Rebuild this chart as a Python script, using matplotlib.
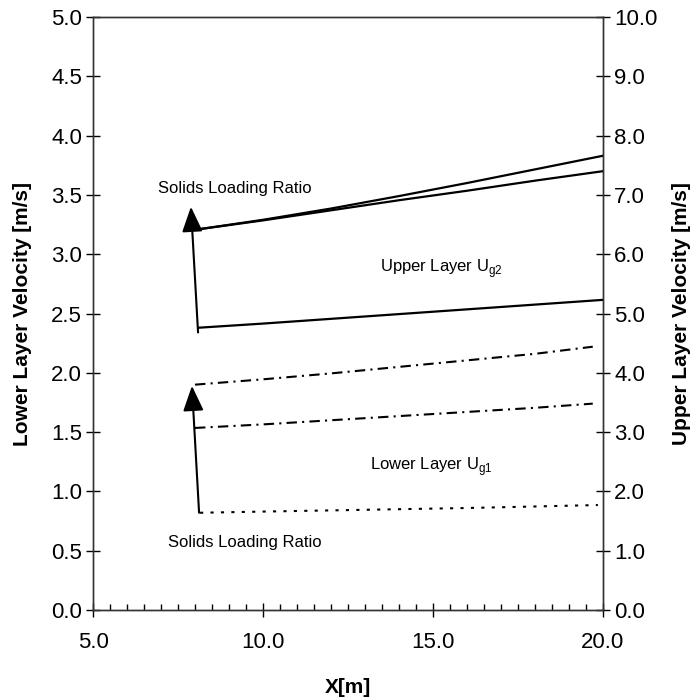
import matplotlib.pyplot as plt
from matplotlib.ticker import MultipleLocator, FormatStrFormatter

plt.rcParams['font.family'] = ['Liberation Sans', 'DejaVu Sans']

# upper layer (right axis), solid lines
x_up = [8.1, 10, 12, 14, 16, 18, 20]
up_a = [6.42, 6.58, 6.77, 6.98, 7.20, 7.43, 7.66]
up_b = [6.42, 6.57, 6.74, 6.91, 7.07, 7.24, 7.40]
up_c = [4.76, 4.83, 4.91, 4.99, 5.07, 5.15, 5.23]

# lower layer (left axis)
x_low = [8.0, 10, 12, 14, 16, 18, 19.7]
low_a = [1.90, 1.945, 1.995, 2.05, 2.105, 2.16, 2.22]
low_b = [1.535, 1.565, 1.60, 1.635, 1.67, 1.705, 1.74]
x_dot = [8.15, 10, 12, 14, 16, 18, 19.85]
low_c = [0.82, 0.83, 0.84, 0.85, 0.86, 0.873, 0.885]

fig = plt.figure(figsize=(6.91, 6.99), dpi=100)
ax = fig.add_axes([0.1346, 0.1273, 0.738, 0.8484])
ax2 = ax.twinx()

ax.plot(x_low, low_a, color='k', lw=1.5, linestyle=(0, (5, 2.5, 1, 2.5)))
ax.plot(x_low, low_b, color='k', lw=1.5, linestyle=(0, (5, 2.5, 1, 2.5)))
ax.plot(x_dot, low_c, color='k', lw=1.5, linestyle=(0, (1.5, 3.5)))

ax2.plot(x_up, up_a, color='k', lw=1.6)
ax2.plot(x_up, up_b, color='k', lw=1.6)
ax2.plot(x_up, up_c, color='k', lw=1.6)

arrow = dict(arrowstyle='-|>,head_length=1.1,head_width=0.45', mutation_scale=14,
             lw=1.5, color='k', shrinkA=0, shrinkB=0)
ax.annotate('', xy=(7.88, 3.40), xytext=(8.09, 2.34), arrowprops=arrow)
ax.annotate('', xy=(7.91, 1.89), xytext=(8.12, 0.82), arrowprops=arrow)

ax.text(9.18, 3.55, 'Solids Loading Ratio', fontsize=12, ha='center', va='center')
ax.text(9.47, 0.57, 'Solids Loading Ratio', fontsize=12, ha='center', va='center')
ax.text(15.26, 2.88, 'Upper Layer U$_{\\mathregular{g2}}$', fontsize=12, ha='center', va='center')
ax.text(14.94, 1.21, 'Lower Layer U$_{\\mathregular{g1}}$', fontsize=12, ha='center', va='center')

ax.set_xlim(5, 20)
ax.set_ylim(0, 5)
ax2.set_ylim(0, 10)
ax.xaxis.set_major_locator(MultipleLocator(5))
ax.xaxis.set_minor_locator(MultipleLocator(0.5))
ax.yaxis.set_major_locator(MultipleLocator(0.5))
ax2.yaxis.set_major_locator(MultipleLocator(1))
ax.xaxis.set_major_formatter(FormatStrFormatter('%.1f'))
ax.yaxis.set_major_formatter(FormatStrFormatter('%.1f'))
ax2.yaxis.set_major_formatter(FormatStrFormatter('%.1f'))

ax.tick_params(axis='both', which='major', direction='inout', length=10, width=1,
               labelsize=16, pad=3)
ax.tick_params(axis='x', which='major', pad=11)
ax.tick_params(axis='x', which='minor', direction='in', length=4, width=1)
ax2.tick_params(axis='y', which='major', direction='inout', length=10, width=1,
                labelsize=16, pad=3)

ax.set_xlabel('X[m]', fontsize=15, fontweight='bold', labelpad=18)
ax.set_ylabel('Lower Layer Velocity [m/s]', fontsize=15, fontweight='bold')
ax2.set_ylabel('Upper Layer Velocity [m/s]', fontsize=15, fontweight='bold')
ax.yaxis.set_label_coords(-0.12, 0.5)
ax2.yaxis.set_label_coords(1.135, 0.5)

for a in (ax, ax2):
    for s in a.spines.values():
        s.set_linewidth(1)
        s.set_color('#333333')

fig.savefig('out.png', dpi=100)
